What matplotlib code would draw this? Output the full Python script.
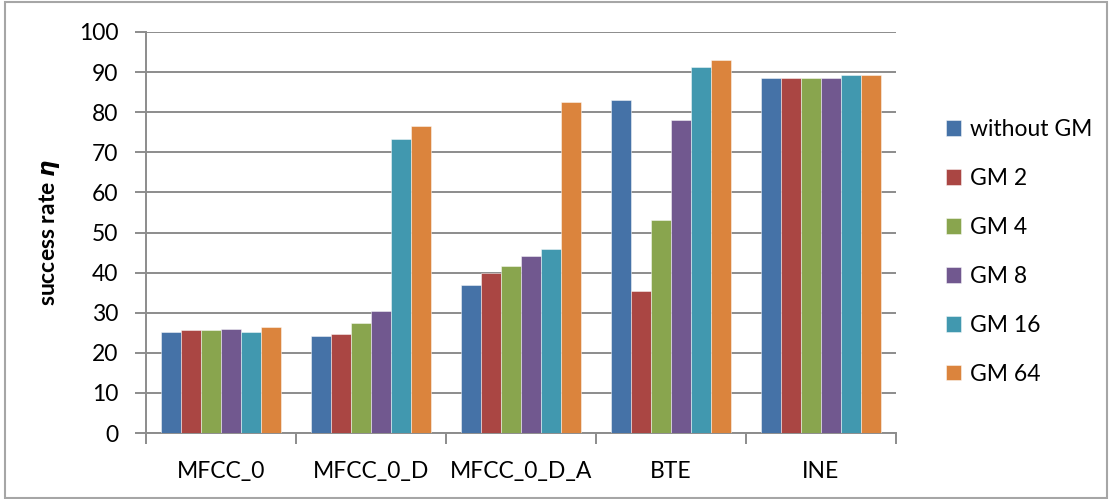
import matplotlib
matplotlib.use("Agg")
import matplotlib.pyplot as plt
import numpy as np
from matplotlib.patches import Rectangle

categories = ["MFCC_0", "MFCC_0_D", "MFCC_0_D_A", "BTE", "INE"]
series_names = ["without GM", "GM 2", "GM 4", "GM 8", "GM 16", "GM 64"]
without_gm = [25.2, 24.1, 36.9, 83.1, 88.5]
gm_2 = [25.6, 24.7, 39.8, 35.3, 88.5]
gm_4 = [25.7, 27.4, 41.7, 53.1, 88.5]
gm_8 = [26.0, 30.3, 44.1, 78.0, 88.5]
gm_16 = [25.3, 73.4, 45.9, 91.3, 89.2]
gm_64 = [26.5, 76.6, 82.6, 92.9, 89.3]
y_ticks = list(range(0, 101, 10))

series = [without_gm, gm_2, gm_4, gm_8, gm_16, gm_64]
colors = ["#4572A7", "#AA4643", "#89A54E", "#71588F", "#4198AF", "#DB843D"]

plt.rcParams["font.family"] = ["Lato", "DejaVu Sans"]
plt.rcParams["mathtext.fontset"] = "dejavusans"
FS = 16.5

fig = plt.figure(figsize=(11.10, 4.99), dpi=100)
ax = fig.add_axes([146 / 1110, 1 - 433 / 499, 750 / 1110, 401 / 499])

n = len(series)
group_w = 0.8
bw = group_w / n
x = np.arange(len(categories))
for i, (vals, col, name) in enumerate(zip(series, colors, series_names)):
    ax.bar(x - group_w / 2 + bw * (i + 0.5), vals, width=bw, color=col,
           edgecolor=(1, 1, 1, 0.55), linewidth=0.6, label=name, zorder=3)

ax.set_xlim(-0.5, len(categories) - 0.5)
ax.set_ylim(0, 100)
ax.set_yticks(y_ticks)
ax.set_yticklabels([str(v) for v in y_ticks], fontsize=FS)
ax.yaxis.grid(True, color="#8C8C8C", linewidth=1.4, zorder=0)
ax.set_axisbelow(True)

ax.set_xticks(x)
ax.set_xticklabels(categories, fontsize=FS)
ax.tick_params(axis="x", length=0, pad=20)
ax.set_xticks(np.arange(-0.5, len(categories)), minor=True)
ax.tick_params(axis="x", which="minor", length=8, width=1.4, color="#8C8C8C", direction="out")
ax.tick_params(axis="y", length=8, width=1.4, color="#8C8C8C", direction="out", pad=12)

for s in ["top", "right"]:
    ax.spines[s].set_visible(False)
for s in ["left", "bottom"]:
    ax.spines[s].set_color("#8C8C8C")
    ax.spines[s].set_linewidth(1.4)

ax.set_ylabel(r"success rate $\boldsymbol{\eta}$", fontsize=FS, fontweight="bold", labelpad=12)

leg = ax.legend(loc="center left", bbox_to_anchor=(937 / 1110, 1 - 252 / 499), bbox_transform=fig.transFigure,
                frameon=False, fontsize=FS, handlelength=0.65, handleheight=0.65,
                handletextpad=0.4, labelspacing=1.22, borderaxespad=0)

fig.patches.append(Rectangle((5 / 1110, 1 / 499), 1102 / 1110, 496 / 499, transform=fig.transFigure,
                             fill=False, edgecolor="#A6A6A6", linewidth=1.5))

fig.savefig("out.png", dpi=100, facecolor="white")
